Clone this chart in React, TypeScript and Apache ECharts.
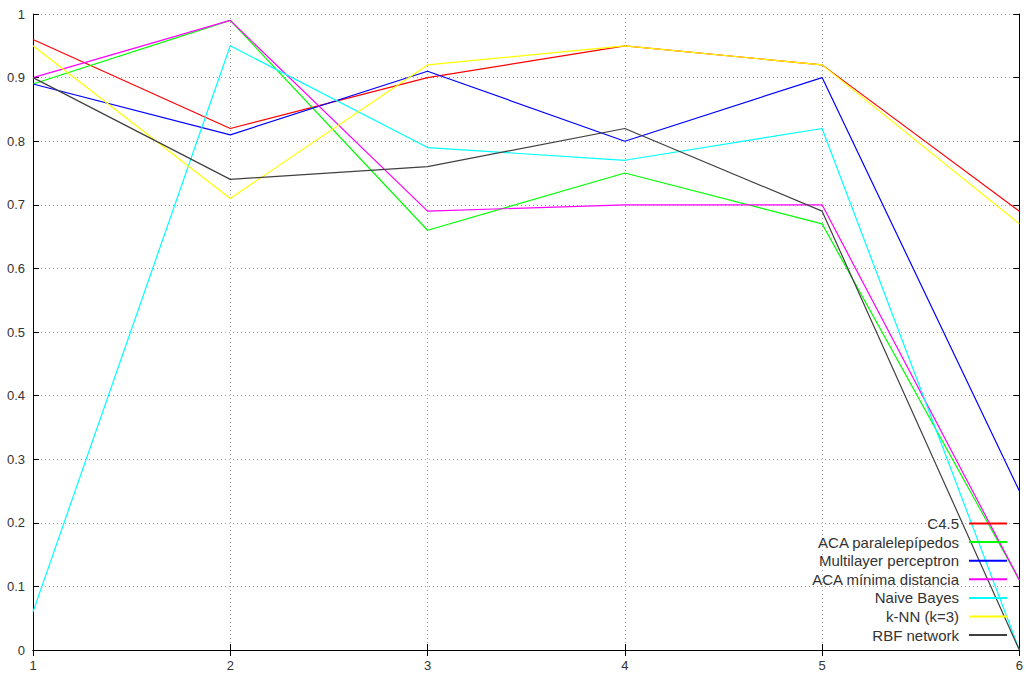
import React, { useEffect, useRef } from "react";
import * as echarts from "echarts";

const xValues = [1, 2, 3, 4, 5, 6];
const seriesNames = [
  "C4.5",
  "ACA paralelepípedos",
  "Multilayer perceptron",
  "ACA mínima distancia",
  "Naive Bayes",
  "k-NN (k=3)",
  "RBF network",
];
const c45 = [0.96, 0.82, 0.9, 0.95, 0.92, 0.69];
const acaParalelepipedos = [0.89, 0.99, 0.66, 0.75, 0.67, 0.11];
const multilayerPerceptron = [0.89, 0.81, 0.91, 0.8, 0.9, 0.25];
const acaMinimaDistancia = [0.9, 0.99, 0.69, 0.7, 0.7, 0.11];
const naiveBayes = [0.06, 0.95, 0.79, 0.77, 0.82, 0.0];
const knn = [0.95, 0.71, 0.92, 0.95, 0.92, 0.67];
const rbfNetwork = [0.9, 0.74, 0.76, 0.82, 0.69, 0.0];
const seriesColors = ["#ff0000", "#00ff00", "#0000ff", "#ff00ff", "#00ffff", "#ffff00", "#404040"];

export default function App() {
  const ref = useRef<HTMLDivElement>(null);
  useEffect(() => {
    document.body.style.margin = "0";
    const chart = echarts.init(ref.current!, null, { renderer: "svg" });
    const allData = [c45, acaParalelepipedos, multilayerPerceptron, acaMinimaDistancia, naiveBayes, knn, rbfNetwork];
    const font = "Liberation Sans, Arial, sans-serif";
    const gridLine = { show: true, lineStyle: { color: "#a0a0a0", type: [1, 3] as any, width: 1 } };
    chart.setOption({
      animation: false,
      backgroundColor: "#ffffff",
      grid: { left: 33, right: 6, top: 14, bottom: 26, containLabel: false },
      xAxis: [
        {
          type: "value",
          min: 1,
          max: 6,
          interval: 1,
          position: "bottom",
          axisLine: { show: true, lineStyle: { color: "#000", width: 1 } },
          axisTick: { show: true, inside: true, length: 6, lineStyle: { color: "#000" } },
          axisLabel: { color: "#333", fontSize: 13, fontFamily: font, margin: 9 },
          splitLine: gridLine,
        },
        {
          type: "value",
          min: 1,
          max: 6,
          interval: 1,
          position: "top",
          axisLine: { show: true, lineStyle: { color: "#000", width: 1 } },
          axisTick: { show: true, inside: true, length: 6, lineStyle: { color: "#000" } },
          axisLabel: { show: false },
          splitLine: { show: false },
        },
      ],
      yAxis: [
        {
          type: "value",
          min: 0,
          max: 1,
          interval: 0.1,
          position: "left",
          axisLine: { show: true, lineStyle: { color: "#000", width: 1 } },
          axisTick: { show: true, inside: true, length: 6, lineStyle: { color: "#000" } },
          axisLabel: {
            color: "#333",
            fontSize: 13,
            fontFamily: font,
            margin: 8,
            formatter: (v: number) => String(Math.round(v * 10) / 10),
          },
          splitLine: gridLine,
        },
        {
          type: "value",
          min: 0,
          max: 1,
          interval: 0.1,
          position: "right",
          axisLine: { show: true, lineStyle: { color: "#000", width: 1 } },
          axisTick: { show: true, inside: true, length: 6, lineStyle: { color: "#000" } },
          axisLabel: { show: false },
          splitLine: { show: false },
        },
      ],
      legend: {
        orient: "vertical",
        right: 14,
        top: 511,
        align: "right",
        itemWidth: 38,
        itemHeight: 2,
        itemGap: 3.6,
        icon: "rect",
        textStyle: { fontSize: 15, fontFamily: font, color: "#333", padding: [0, 5, 0, 0], lineHeight: 14 },
        data: seriesNames,
      },
      series: seriesNames.map((name, i) => ({
        name,
        type: "line",
        xAxisIndex: 0,
        yAxisIndex: 0,
        data: xValues.map((x, j) => [x, allData[i][j]]),
        showSymbol: false,
        symbol: "none",
        color: seriesColors[i],
        lineStyle: { color: seriesColors[i], width: 1.2 },
      })),
    });
    return () => chart.dispose();
  }, []);
  return <div ref={ref} style={{ width: 1026, height: 676 }} />;
}
